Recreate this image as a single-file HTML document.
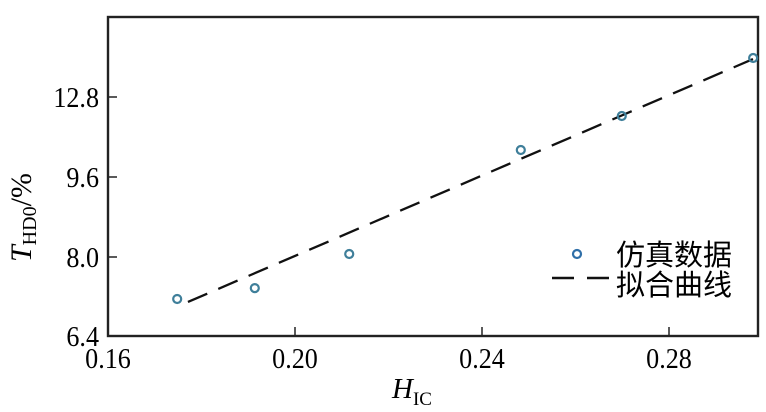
<!DOCTYPE html>
<html><head><meta charset="utf-8"><style>
body{margin:0;background:#fff;}
svg{display:block;font-family:"Liberation Serif","Noto Serif CJK SC",serif;}
</style></head><body>
<svg id="chart" width="766" height="412" viewBox="0 0 766 412">
<rect x="108" y="17" width="650" height="319" fill="none" stroke="#222" stroke-width="2.4"/>
<g id="axes"></g>
<g id="series"></g>
<text font-size="30" font-style="italic" transform="translate(31 262) rotate(-90)"><tspan x="0" y="0">T</tspan><tspan font-size="20" font-style="normal" dy="5">HD0</tspan><tspan font-style="normal" dy="-5">/%</tspan></text>
<text x="412" y="398" font-size="29" font-style="italic" text-anchor="middle">H<tspan font-size="19" font-style="normal" dy="7">IC</tspan></text>
<g>
<circle cx="577" cy="254" r="4" fill="none" stroke="#2f6fa8" stroke-width="2.2"/>
<text x="616" y="265" font-size="29" font-family="'Noto Sans CJK SC',sans-serif">仿真数据</text>
<line x1="552" y1="278" x2="611" y2="278" stroke="#111" stroke-width="2.5" stroke-dasharray="22,13"/>
<text x="616" y="295" font-size="29" font-family="'Noto Sans CJK SC',sans-serif">拟合曲线</text>
</g>
</svg>
<script>
const xTicks=[0.16,0.20,0.24,0.28];
const xTickLabels=["0.16","0.20","0.24","0.28"];
const yTicks=[6.4,8.0,9.6,12.8];
const yTickLabels=["6.4","8.0","9.6","12.8"];
const simX=[0.1748,0.1914,0.2116,0.2483,0.2699,0.298];
const simY=[7.15,7.37,8.06,10.68,12.04,14.36];
const fitX=[0.1771,0.298];
const fitY=[7.09,14.32];
const NS="http://www.w3.org/2000/svg";
const X0=108,PX=187/0.04;
function sx(v){return X0+(v-0.16)*PX;}
const yPos=[336,257,177,97];
function sy(v){
  let i=0;
  if(v>=yTicks[yTicks.length-1]) i=yTicks.length-2;
  else {while(i<yTicks.length-2&&v>yTicks[i+1])i++;}
  const t=(v-yTicks[i])/(yTicks[i+1]-yTicks[i]);
  return yPos[i]+t*(yPos[i+1]-yPos[i]);
}
function mk(tag,attrs,parent){const e=document.createElementNS(NS,tag);for(const k in attrs)e.setAttribute(k,attrs[k]);parent.appendChild(e);return e;}
const axes=document.getElementById('axes'),series=document.getElementById('series');
xTicks.forEach((v,i)=>{
  const x=sx(v);
  if(i>0){const l=mk('line',{x1:x,x2:x,y1:336,y2:327,stroke:'#222','stroke-width':1.5},axes);
  
  }
  const t=mk('text',{x:0,y:0,'font-size':29,'text-anchor':'middle',transform:'translate('+x+' 368) scale(0.9 1)'},axes);
  t.textContent=xTickLabels[i];
  
  
});
yTicks.forEach((v,i)=>{
  const y=sy(v);
  if(i>0){const l=mk('line',{x1:108,x2:117,y1:y,y2:y,stroke:'#222','stroke-width':1.5},axes);
  
  }
  const t=mk('text',{x:0,y:0,'font-size':29,'text-anchor':'end',transform:'translate(99 '+(y+10)+') scale(0.9 1)'},axes);
  t.textContent=yTickLabels[i];
  
  
});
const fl=mk('line',{x1:sx(fitX[0]),y1:sy(fitY[0]),x2:sx(fitX[1]),y2:sy(fitY[1]),stroke:'#111','stroke-width':2.3,'stroke-dasharray':'21,12'},series);


simX.forEach((v,i)=>{
  const c=mk('circle',{cx:sx(v),cy:sy(simY[i]),r:4,fill:'none',stroke:'#3f7f9a','stroke-width':2.2},series);
  
  
});
</script>
</body></html>
